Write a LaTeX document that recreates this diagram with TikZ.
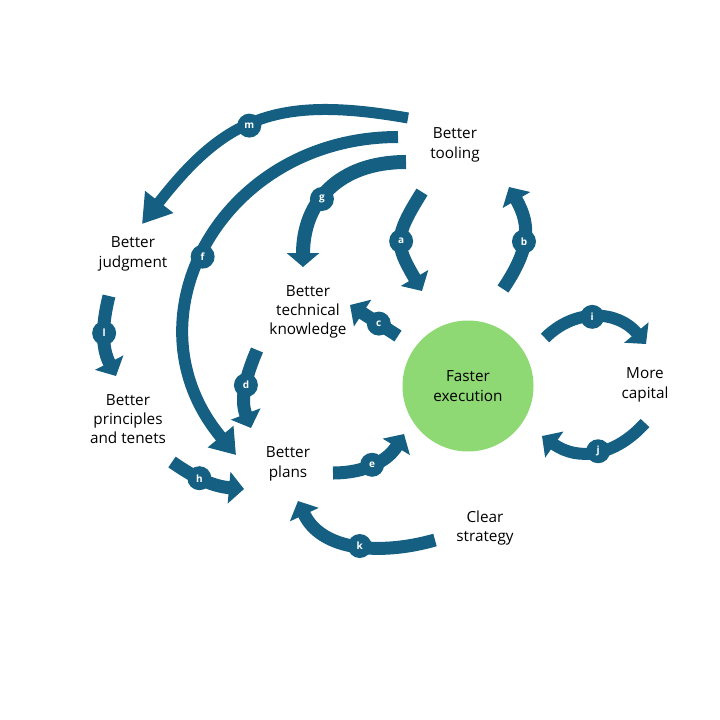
\documentclass[tikz,border=0pt]{standalone}
\usepackage{fontspec}
\setmainfont{Open Sans}
\usetikzlibrary{arrows.meta}
\definecolor{loopblue}{HTML}{156082}
\definecolor{hubgreen}{HTML}{8ED973}

\begin{document}
\begin{tikzpicture}[x=1pt, y=-1pt,
  caption/.style={align=center, font=\fontsize{15.3}{19.3}\selectfont, text=black},
  hub/.style={circle, fill=hubgreen, minimum size=131pt, inner sep=0pt, align=center,
    font=\fontsize{15.3}{19.3}\selectfont},
  flow/.style={draw=loopblue, line width=13pt, -{Triangle[width=31pt,length=15pt]}},
  tag/.style={circle, fill=loopblue, text=white, minimum size=24pt, inner sep=0pt,
    font=\fontsize{10}{10}\selectfont\bfseries}
]
\useasboundingbox (0,0) rectangle (720,720);

\node[caption] (tooling)    at (455,145) {Better\\tooling};
\node[caption] (judgment)   at (133,254) {Better\\judgment};
\node[caption] (knowledge)  at (308,312) {Better\\technical\\knowledge};
\node[hub]     (exec)       at (468,386) {Faster\\execution};
\node[caption] (capital)    at (645,385) {More\\capital};
\node[caption] (principles) at (128,419) {Better\\principles\\and tenets};
\node[caption] (plans)      at (288,464) {Better\\plans};
\node[caption] (strategy)   at (485,528) {Clear\\strategy};

% free ends of the arrows
\coordinate (m1) at (408,118); \coordinate (m2) at (142,224);
\coordinate (f1) at (398,137); \coordinate (f2) at (236,455);
\coordinate (g1) at (406,162); \coordinate (g2) at (303,267);
\coordinate (a1) at (422,192); \coordinate (a2) at (422,291);
\coordinate (b1) at (503,289); \coordinate (b2) at (509,187);
\coordinate (c1) at (398,336); \coordinate (c2) at (350,305);
\coordinate (d1) at (257,350); \coordinate (d2) at (251,428);
\coordinate (e1) at (333,473); \coordinate (e2) at (404,434);
\coordinate (h1) at (172,462); \coordinate (h2) at (244,489);
\coordinate (i1) at (545,338); \coordinate (i2) at (646,344);
\coordinate (j1) at (645,423); \coordinate (j2) at (542,436);
\coordinate (k1) at (435,540); \coordinate (k2) at (298,501);
\coordinate (l1) at (109,296); \coordinate (l2) at (116,376);

\draw[flow, line width=11pt, -{Triangle[width=34pt,length=28pt]}]
  (m1) to[out=170, in=52, looseness=1.2] node[tag, pos=0.53] {m} (m2);
\draw[flow, line width=12pt, -{Triangle[width=32pt,length=24pt]}]
  (f1) to[out=180, in=130, looseness=1.27] node[tag, pos=0.53] {f} (f2);
\draw[flow, line width=14pt, -{Triangle[width=32pt,length=14pt]}]
  (g1) to[out=180, in=90, looseness=1.15] node[tag, pos=0.58] {g} (g2);
\draw[flow] (a1) to[out=238, in=120, looseness=1.4] node[tag, pos=0.5] {a} (a2);
\draw[flow] (b1) to[out=56, in=300, looseness=1.15] node[tag, pos=0.47] {b} (b2);
\draw[flow] (c1) -- node[tag, pos=0.4] {c} (c2);
\draw[flow] (d1) to[out=247, in=111] node[tag, pos=0.45] {d} (d2);
\draw[flow] (e1) to[out=0, in=239] node[tag, pos=0.47] {e} (e2);
\draw[flow] (h1) to[out=325, in=175] node[tag, pos=0.4] {h} (h2);
\draw[flow, line width=12pt] (i1) to[out=45, in=130, looseness=1.1] node[tag, pos=0.46] {i} (i2);
\draw[flow, line width=12pt] (j1) to[out=228, in=325, looseness=1.1] node[tag, pos=0.48] {j} (j2);
\draw[flow] (k1) to[out=196, in=295] node[tag, pos=0.47] {k} (k2);
\draw[flow] (l1) to[out=256, in=117] node[tag, pos=0.45] {l} (l2);

\end{tikzpicture}
\end{document}
